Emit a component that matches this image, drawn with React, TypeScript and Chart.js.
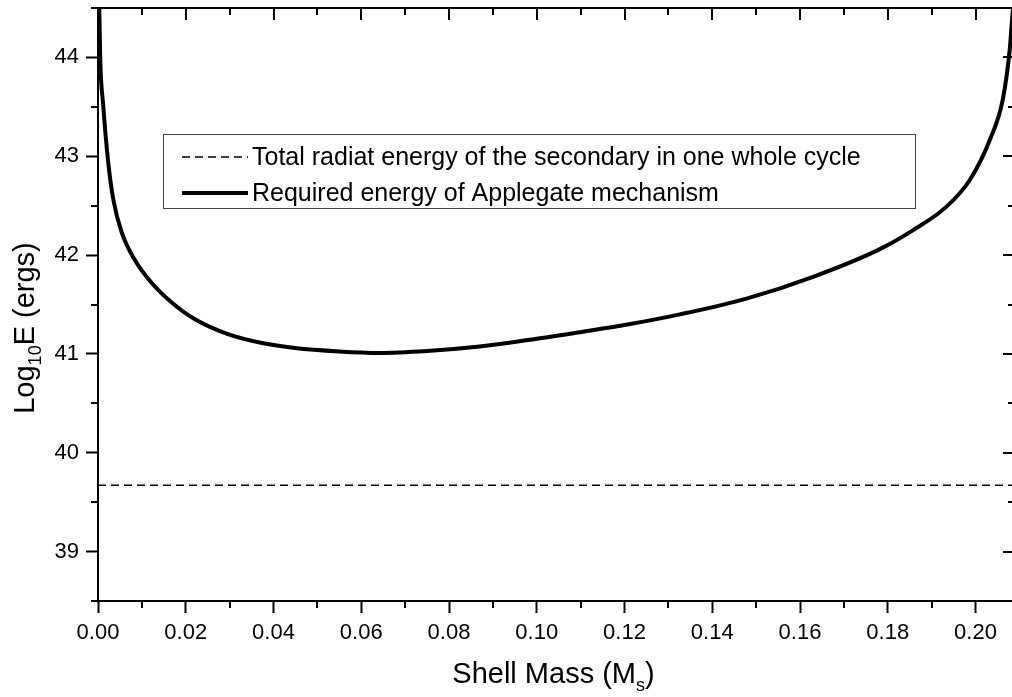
import React, { useEffect, useRef } from "react";
import { Chart, registerables } from "chart.js";

Chart.register(...registerables);

// ---- data ----
const shellMass = [
  0.0002, 0.0005, 0.0012, 0.0023, 0.0035, 0.0054, 0.0084, 0.0122, 0.0168, 0.0221,
  0.0296, 0.0374, 0.0449, 0.055, 0.064, 0.075, 0.087, 0.098, 0.1098, 0.121,
  0.1326, 0.1478, 0.163, 0.1782, 0.1857, 0.1934, 0.1987, 0.2033, 0.2062, 0.2078,
  0.2082, 0.209,
];
const requiredEnergy = [
  44.75, 44.0, 43.51, 42.95, 42.56, 42.23, 41.95, 41.72, 41.52, 41.35,
  41.2, 41.11, 41.06, 41.025, 41.01, 41.03, 41.075, 41.14, 41.22, 41.3,
  41.4, 41.56, 41.78, 42.06, 42.25, 42.49, 42.76, 43.17, 43.57, 44.08,
  44.31, 44.75,
];
const radiatedMass = [0, 0.209];
const radiatedEnergy = [39.67, 39.67];

const xRange = [0, 0.209];
const yRange = [38.5, 44.5];
const xTickValues = [0, 0.02, 0.04, 0.06, 0.08, 0.1, 0.12, 0.14, 0.16, 0.18, 0.2];
const yTickValues = [39, 40, 41, 42, 43, 44];
const xMinorStep = 0.01;
const yMinorStep = 0.5;

const legendLabels = [
  "Total radiat energy of the secondary in one whole cycle",
  "Required energy of Applegate mechanism",
];
const xTitle = ["Shell Mass (M", "s", ")"];
const yTitle = ["Log", "10", "E (ergs)"];

const FONT = "'Liberation Sans', Arial, Helvetica, sans-serif";

const isMajor = (v: number, list: number[]) => list.some((t) => Math.abs(t - v) < 1e-9);

const framePlugin = {
  id: "frame",
  afterDraw(chart: any) {
    const ctx = chart.ctx;
    const { left, right, top, bottom } = chart.chartArea;
    const xs = chart.scales.x;
    const ys = chart.scales.y;
    ctx.save();
    ctx.strokeStyle = "#000";
    ctx.lineWidth = 2;
    ctx.lineCap = "butt";
    // top and right frame lines
    ctx.beginPath();
    ctx.moveTo(left - 1, top);
    ctx.lineTo(right + 1, top);
    ctx.moveTo(right, top);
    ctx.lineTo(right, bottom);
    ctx.stroke();
    // x ticks: minor outward at bottom, all inward at top
    const nx = Math.floor((xRange[1] - xRange[0]) / xMinorStep + 1e-9);
    ctx.beginPath();
    for (let i = 0; i <= nx; i++) {
      const v = xRange[0] + i * xMinorStep;
      const px = Math.round(xs.getPixelForValue(v));
      const major = isMajor(v, xTickValues);
      if (!major) {
        ctx.moveTo(px, bottom);
        ctx.lineTo(px, bottom + 7);
      }
      ctx.moveTo(px, top);
      ctx.lineTo(px, top + (major ? 12 : 7));
    }
    // y ticks: minor outward at left, all inward at right
    const ny = Math.floor((yRange[1] - yRange[0]) / yMinorStep + 1e-9);
    for (let i = 0; i <= ny; i++) {
      const v = yRange[0] + i * yMinorStep;
      const py = Math.round(ys.getPixelForValue(v));
      const major = isMajor(v, yTickValues);
      if (!major) {
        ctx.moveTo(left, py);
        ctx.lineTo(left - 7, py);
      }
      ctx.moveTo(right, py);
      ctx.lineTo(right - (major ? 12 : 7), py);
    }
    ctx.stroke();

    // axis titles
    ctx.fillStyle = "#000";
    const big = `29px ${FONT}`;
    const small = `18px ${FONT}`;
    ctx.textBaseline = "alphabetic";
    ctx.textAlign = "left";
    // x title
    ctx.font = big;
    const w0 = ctx.measureText(xTitle[0]).width;
    const w2 = ctx.measureText(xTitle[2]).width;
    ctx.font = small;
    const w1 = ctx.measureText(xTitle[1]).width;
    const totalX = w0 + w1 + w2;
    const cx = (left + right) / 2 - 3;
    const x0 = cx - totalX / 2;
    const baseX = 683;
    ctx.font = big;
    ctx.fillText(xTitle[0], x0, baseX);
    ctx.font = small;
    ctx.fillText(xTitle[1], x0 + w0, baseX + 8);
    ctx.font = big;
    ctx.fillText(xTitle[2], x0 + w0 + w1, baseX);
    // y title (rotated)
    ctx.font = big;
    const a0 = ctx.measureText(yTitle[0]).width;
    const a2 = ctx.measureText(yTitle[2]).width;
    ctx.font = small;
    const a1 = ctx.measureText(yTitle[1]).width;
    const totalY = a0 + a1 + a2;
    ctx.translate(34, 328);
    ctx.rotate(-Math.PI / 2);
    const s = -totalY / 2;
    ctx.font = big;
    ctx.fillText(yTitle[0], s, 0);
    ctx.font = small;
    ctx.fillText(yTitle[1], s + a0, 7);
    ctx.font = big;
    ctx.fillText(yTitle[2], s + a0 + a1, 0);
    ctx.restore();

    // legend
    ctx.save();
    const bx = 163, by = 134, bw = 752, bh = 74;
    ctx.strokeStyle = "#444";
    ctx.lineWidth = 1;
    ctx.strokeRect(bx + 0.5, by + 0.5, bw, bh);
    const rows = [157, 193];
    chart.data.datasets.forEach((ds: any, i: number) => {
      const y = rows[i];
      ctx.beginPath();
      ctx.strokeStyle = ds.borderColor;
      ctx.lineWidth = ds.borderWidth;
      ctx.setLineDash(ds.borderDash || []);
      ctx.moveTo(182, y);
      ctx.lineTo(248, y);
      ctx.stroke();
      ctx.setLineDash([]);
      ctx.fillStyle = "#000";
      ctx.font = `25px ${FONT}`;
      ctx.textBaseline = "middle";
      ctx.textAlign = "left";
      ctx.fillText(ds.label, 252, y + 1);
    });
    ctx.restore();
  },
};

export default function App() {
  const ref = useRef<HTMLCanvasElement | null>(null);
  useEffect(() => {
    if (!ref.current) return;
    const chart = new Chart(ref.current, {
      type: "line",
      data: {
        datasets: [
          {
            label: legendLabels[0],
            data: radiatedMass.map((x, i) => ({ x, y: radiatedEnergy[i] })),
            borderColor: "#000",
            borderWidth: 1.5,
            borderDash: [8, 5],
            pointRadius: 0,
            fill: false,
            clip: 0,
          },
          {
            label: legendLabels[1],
            data: shellMass.map((x, i) => ({ x, y: requiredEnergy[i] })),
            borderColor: "#000",
            borderWidth: 4,
            pointRadius: 0,
            fill: false,
            cubicInterpolationMode: "monotone",
            clip: 0,
          },
        ],
      },
      options: {
        animation: false,
        responsive: false,
        devicePixelRatio: 1,
        layout: { padding: { top: 8, right: 2, left: 0, bottom: 0 } },
        plugins: { legend: { display: false }, tooltip: { enabled: false } },
        scales: {
          x: {
            type: "linear",
            min: xRange[0],
            max: xRange[1],
            afterFit: (s: any) => {
              s.height = 96;
              s.paddingLeft = 0;
              s.paddingRight = 0;
            },
            afterBuildTicks: (s: any) => {
              s.ticks = xTickValues.map((value) => ({ value }));
            },
            ticks: {
              autoSkip: false,
              maxRotation: 0,
              padding: 7,
              color: "#000",
              font: { family: FONT, size: 22 },
              callback: (v: any) => Number(v).toFixed(2),
            },
            grid: {
              drawOnChartArea: false,
              tickLength: 12,
              tickWidth: 2,
              tickColor: "#000",
            },
            border: { display: true, color: "#000", width: 2 },
          },
          y: {
            type: "linear",
            min: yRange[0],
            max: yRange[1],
            afterFit: (s: any) => {
              s.width = 98;
              s.paddingTop = 0;
              s.paddingBottom = 0;
            },
            afterBuildTicks: (s: any) => {
              s.ticks = yTickValues.map((value) => ({ value }));
            },
            ticks: {
              autoSkip: false,
              padding: 7,
              color: "#000",
              font: { family: FONT, size: 22 },
              callback: (v: any) => String(Math.round(Number(v))),
            },
            grid: {
              drawOnChartArea: false,
              tickLength: 12,
              tickWidth: 2,
              tickColor: "#000",
            },
            border: { display: true, color: "#000", width: 2 },
          },
        },
      },
      plugins: [framePlugin],
    } as any);
    return () => chart.destroy();
  }, []);
  return (
    <div
      style={{
        position: "fixed",
        left: 0,
        top: 0,
        width: 1012,
        height: 697,
        overflow: "hidden",
        background: "#fff",
      }}
    >
      <canvas ref={ref} width={1017} height={697} style={{ display: "block" }} />
    </div>
  );
}
